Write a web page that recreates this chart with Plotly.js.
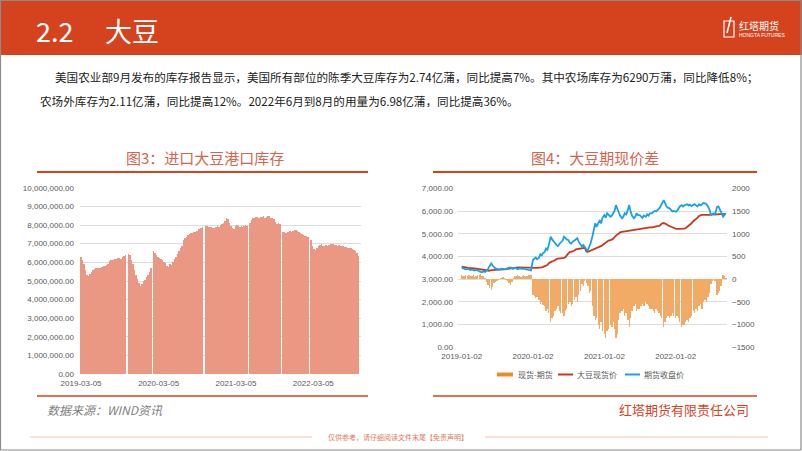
<!DOCTYPE html>
<html>
<head>
<meta charset="utf-8">
<script src="https://cdn.plot.ly/plotly-3.0.1.min.js"></script>
<style>
html,body{margin:0;padding:0;background:#fff;}
#chart{width:802px;height:451px;}
</style>
</head>
<body>
<div id="chart"></div>
<script>
// ---------- Chart 3: imported soybean port inventory (weekly) ----------
const inventoryStart = '2019-03-05';
const inventoryMillions = [
  6.30, 6.15, 5.90, 5.60,
  5.30, 5.25, 5.40, 5.50,
  5.60, 5.65, 5.70, 5.70, 5.70,
  5.72, 5.75, 5.80, 5.78, 5.85,
  5.90, 6.05, 6.10, 6.15,
  6.15, 6.20, 6.18, 6.22, 6.25,
  6.20, 6.30, 6.35, 6.40,
  null, 6.45, 6.40, 6.10, 5.90,
  5.60, 5.30, 5.10, 4.90,
  4.75, 4.85, 5.00, 5.05, 5.20,
  5.30, 5.50, 5.70, null,
  6.60, 6.50, 6.40, 6.30, 6.25,
  6.20, 6.10, 6.00, 5.95,
  5.80, 5.75, 5.90, 5.85,
  6.00, 6.20, 6.30, 6.45,
  6.60, 6.75, 6.90, 7.20, 7.30,
  7.35, 7.45, 7.50, 7.55, 7.55,
  7.60, 7.65, 7.70, 7.80,
  7.80, 7.85, 7.90, null,
  7.95, 7.95, 7.90, 7.90,
  7.90, 7.85, 7.85, 7.90, 7.95,
  7.90, 8.00, 8.05, 8.10,
  8.20, 8.35, 8.30, 8.10,
  7.95, 7.85, 7.80, 7.95,
  8.00, 7.95, 7.90, 7.95,
  7.90, 7.95, 8.00, 7.95, null,
  8.10, 8.25, 8.35, 8.40,
  8.45, 8.45, 8.40, 8.45,
  8.45, 8.50, 8.40, 8.45,
  8.50, 8.50, 8.40, 8.35, 8.30,
  8.15, 8.05, 8.10, 8.05,
  null, 7.60, 7.60, 7.55, 7.65,
  7.60, 7.70, 7.65, 7.70,
  7.75, 7.75, 7.70, 7.60,
  7.55, 7.50, 7.45, 7.40,
  7.40, 7.35, null, 7.20,
  6.90, 6.70, 6.65, 6.75,
  6.85, 6.95, 7.00, 6.90, 6.90,
  6.95, 6.90, 6.95, 7.00, 6.98,
  7.00, 6.95, 6.95, 6.90,
  6.92, 6.88, 6.85, 6.85,
  6.80, 6.80, 6.78, 6.75,
  6.75, 6.70, 6.65, 6.60, 6.50, 6.35
];
const inventoryTickVals = ['2019-03-05','2020-03-05','2021-03-05','2022-03-05'];
const inventoryTickText = ['2019-03-05','2020-03-05','2021-03-05','2022-03-05'];

// ---------- Chart 4: soybean basis (4 samples per month, Jan 2019 - Sep 2022) ----------
const sampleDays = [2, 9, 16, 23];
const spotPrice = [
  3550,3550,3530,3520, 3500,3500,3490,3480, 3470,3470,3460,3450, 3440,3430,3420,3400,
  3380,3370,3360,3370, 3400,3400,3410,3400, 3400,3400,3400,3410, 3420,3430,3440,3450,
  3470,3490,3500,3510, 3530,3530,3520,3520, 3515,3510,3500,3500, 3490,3490,3490,3490,
  3490,3490,3500,3500, 3500,3510,3520,3540, 3560,3580,3620,3700, 3760,3780,3800,3850,
  3880,3900,3900,3920, 3930,3940,3960,4050, 4150,4200,4200,4220, 4260,4310,4320,4330,
  4340,4350,4370,4380, 4220,4200,4230,4260, 4280,4300,4330,4380, 4400,4430,4450,4500,
  4580,4620,4680,4700, 4720,4750,4780,4850, 4930,4970,5000,5060, 5080,5090,5100,5110,
  5110,5130,5140,5150, 5170,5190,5200,5210, 5220,5230,5240,5250, 5260,5280,5280,5280,
  5280,5280,5300,5320, 5330,5340,5380,5450, 5470,5460,5420,5370, 5330,5300,5280,5250,
  5220,5210,5210,5200, 5200,5210,5220,5250, 5300,5340,5380,5450, 5550,5600,5620,5700,
  5780,5820,5830,5830, 5820,5820,5830,5830, 5840,5840,5840,5850, 5860,5870,5870,5860,
  5850,5860,5870
];
const futuresClose = [
  3470,3500,3450,3430, 3450,3420,3400,3430, 3400,3380,3410,3370, 3350,3320,3300,3340,
  3320,3380,3430,3550, 3690,3600,3515,3480, 3450,3430,3420,3460, 3440,3420,3430,3480,
  3500,3520,3480,3450, 3500,3470,3440,3460, 3480,3450,3470,3440, 3420,3400,3410,3380,
  3840,3900,3950,3880, 3950,4100,4050,4150, 4200,4350,4300,4500, 4870,4750,4650,4600,
  4500,4450,4550,4600, 4700,4870,4800,4750, 4720,4600,4570,4650, 4700,4750,4800,4650,
  4550,4430,4500,4400, 4300,4280,4400,4570, 4900,5200,5460,5300, 5500,5600,5450,5700,
  5820,5700,5900,5850, 5750,5800,5900,6000, 6260,6100,5900,5800, 5680,5750,5900,5850,
  6050,6260,6000,5800, 5680,5750,5900,5820, 5820,5750,5700,5800, 5750,5850,5800,5900,
  5900,5950,6000,5980, 6040,6100,6200,6300, 6480,6350,6200,6150, 6120,6050,5980,6000,
  5970,6000,6100,6200, 6260,6200,6250,6280, 6300,6250,6280,6220, 6260,6300,6250,6200,
  6300,6250,6280,6350, 6340,6300,6200,6100, 5820,5850,5900,5850, 6190,6200,6100,5950,
  5750,5850,5900
];
const basis = [
  90,60,80,100, 70,90,60,80, 100,50,80,90, 90,110,70,60,
  30,-60,-120,-200, -240,-180,-90,-60, -40,-20,10,20, 40,20,-20,-50,
  -80,-130,-60,30, 60,80,90,70, 40,60,100,70, 80,90,100,90,
  -350,-380,-420,-400, -450,-550,-500,-560, -600,-700,-650,-750, -950,-850,-800,-700,
  -650,-600,-700,-750, -750,-800,-700,-650, -550,-500,-600,-550, -450,-400,-500,-350,
  -250,-100,-150,-50, -80,-150,-300,-250, -600,-800,-900,-850, -1000,-1100,-950,-1150,
  -1200,-1300,-1150,-1100, -1000,-1050,-950,-1100, -1300,-1200,-900,-750, -700,-650,-800,-750,
  -900,-1050,-850,-700, -600,-550,-700,-650, -650,-600,-550,-600, -500,-550,-600,-650,
  -650,-700,-750,-650, -700,-750,-800,-850, -1050,-950,-850,-800, -850,-800,-750,-800,
  -850,-800,-850,-950, -1050,-1000,-1000,-950, -900,-950,-850,-800, -700,-750,-650,-700,
  -600,-550,-650,-500, -450,-500,-400,-300, -100,-50,0,-50, -350,-300,-250,-150,
  100,60,20
];
const basisTickVals = ['2019-01-02','2020-01-02','2021-01-02','2022-01-02'];
const basisTickText = ['2019-01-02','2020-01-02','2021-01-02','2022-01-02'];
const seriesNames = ['现货-期货', '大豆现货价', '期货收盘价'];

// ---------- build x values ----------
function fmt(d){return d.toISOString().slice(0,10);}
const invDates = [];
{
  const s = new Date(inventoryStart + 'T00:00:00Z');
  for (let i = 0; i < inventoryMillions.length; i++) {
    invDates.push(fmt(new Date(s.getTime() + i*7*86400000)));
  }
}
const invValues = inventoryMillions.map(v => v === null ? null : v * 1e6);

const basisDates = [];
for (let y = 2019; y <= 2022 && basisDates.length < spotPrice.length; y++) {
  for (let m = 1; m <= 12 && basisDates.length < spotPrice.length; m++) {
    for (const d of sampleDays) {
      if (basisDates.length >= spotPrice.length) break;
      basisDates.push(`${y}-${String(m).padStart(2,'0')}-${String(d).padStart(2,'0')}`);
    }
  }
}

// ---------- helpers for page positions ----------
const W = 802, H = 451;
const px = x => x / W;
const py = y => 1 - y / H;

const tickFont = {family: 'Liberation Sans, Arial, sans-serif', size: 8, color: '#595959'};
const cjk = 'Noto Sans CJK SC, sans-serif';

const traces = [
  {
    type: 'bar', x: invDates, y: invValues, xaxis: 'x', yaxis: 'y',
    marker: {color: '#EA9883', line: {width: 0}}, showlegend: false, hoverinfo: 'skip'
  },
  {
    type: 'bar', x: basisDates, y: basis, xaxis: 'x2', yaxis: 'y2', name: seriesNames[0],
    marker: {color: '#F2AB66', line: {width: 0}}, showlegend: false, hoverinfo: 'skip'
  },
  {
    type: 'scatter', mode: 'lines', x: basisDates, y: spotPrice, xaxis: 'x2', yaxis: 'y3', name: seriesNames[1],
    line: {color: '#C8381A', width: 1.8}, showlegend: false, hoverinfo: 'skip'
  },
  {
    type: 'scatter', mode: 'lines', x: basisDates, y: futuresClose, xaxis: 'x2', yaxis: 'y3', name: seriesNames[2],
    line: {color: '#19A3E6', width: 1.8}, showlegend: false, hoverinfo: 'skip'
  }
];

const shapes = [
  {type:'rect', xref:'paper', yref:'paper', x0:0, x1:1, y0:py(55), y1:1, fillcolor:'#D4431D', line:{width:0}, layer:'below'},
  {type:'rect', xref:'paper', yref:'paper', x0:px(0.5), x1:px(801), y0:py(450), y1:py(0.5), line:{color:'#8C8C8C', width:1.2}},
  {type:'rect', xref:'paper', yref:'paper', x0:px(724), x1:px(734), y0:py(37), y1:py(21), line:{color:'#fff', width:1.2}},
  {type:'line', xref:'paper', yref:'paper', x0:px(727), x1:px(731), y0:py(33), y1:py(17), line:{color:'#fff', width:1.5}},
  {type:'line', xref:'paper', yref:'paper', x0:px(37), x1:px(368), y0:py(172), y1:py(172), line:{color:'#D4431D', width:2}},
  {type:'line', xref:'paper', yref:'paper', x0:px(433), x1:px(757), y0:py(172), y1:py(172), line:{color:'#D4431D', width:2}},
  {type:'line', xref:'paper', yref:'paper', x0:px(37), x1:px(368), y0:py(396), y1:py(396), line:{color:'#D4431D', width:1.5}},
  {type:'line', xref:'paper', yref:'paper', x0:px(433), x1:px(757), y0:py(396), y1:py(396), line:{color:'#D4431D', width:1.5}},
  {type:'line', xref:'paper', yref:'paper', x0:px(30), x1:px(312), y0:py(437), y1:py(437), line:{color:'#F2C0B2', width:1}},
  {type:'line', xref:'paper', yref:'paper', x0:px(485), x1:px(768), y0:py(437), y1:py(437), line:{color:'#F2C0B2', width:1}},
  {type:'rect', xref:'paper', yref:'paper', x0:px(497), x1:px(513), y0:py(376.5), y1:py(372.5), fillcolor:'#EE8C22', line:{width:0}},
  {type:'line', xref:'paper', yref:'paper', x0:px(558), x1:px(573), y0:py(374.5), y1:py(374.5), line:{color:'#C8381A', width:2}},
  {type:'line', xref:'paper', yref:'paper', x0:px(625), x1:px(640), y0:py(374.5), y1:py(374.5), line:{color:'#19A3E6', width:2}}
];

function ann(text, x, y, opts) {
  return Object.assign({text, xref:'paper', yref:'paper', x:px(x), y:py(y), showarrow:false,
    xanchor:'left', yanchor:'middle', font:{family: cjk, size: 12, color:'#222'}}, opts || {});
}

const annotations = [
  ann('2.2', 34, 31, {font:{family:cjk, size:27, color:'#fff'}}),
  ann('大豆', 103, 31, {font:{family:cjk, size:27, color:'#fff'}}),
  ann('红塔期货', 737, 26, {font:{family:cjk, size:10, color:'#fff'}}),
  ann('HONGTA FUTURES', 737, 35, {font:{family:'Liberation Sans, sans-serif', size:5, color:'#fff'}}),
  ann('美国农业部9月发布的库存报告显示，美国所有部位的陈季大豆库存为2.74亿蒲，同比提高7%。其中农场库存为6290万蒲，同比降低8%；',
      53, 77, {font:{family:cjk, size:11.6, color:'#222'}}),
  ann('农场外库存为2.11亿蒲，同比提高12%。2022年6月到8月的用量为6.98亿蒲，同比提高36%。',
      38, 101, {font:{family:cjk, size:11.6, color:'#222'}}),
  ann('图3：进口大豆港口库存', 205, 157, {xanchor:'center', font:{family:cjk, size:15, color:'#D5654D'}}),
  ann('图4：大豆期现价差', 595, 157, {xanchor:'center', font:{family:cjk, size:15, color:'#D5654D'}}),
  ann(seriesNames[0], 516, 374.5, {font:{family:cjk, size:8, color:'#595959'}}),
  ann(seriesNames[1], 575, 374.5, {font:{family:cjk, size:8, color:'#595959'}}),
  ann(seriesNames[2], 642, 374.5, {font:{family:cjk, size:8, color:'#595959'}}),
  ann('<i>数据来源：WIND资讯</i>', 45, 409, {font:{family:cjk, size:12, color:'#7F7F7F'}}),
  ann('红塔期货有限责任公司', 751, 409, {xanchor:'right', font:{family:cjk, size:13, color:'#D4431D'}}),
  ann('仅供参考，请仔细阅读文件末尾【免责声明】', 398, 437, {xanchor:'center', font:{family:cjk, size:7, color:'#E07A60'}})
];

const layout = {
  width: W, height: H,
  margin: {l:0, r:0, t:0, b:0},
  paper_bgcolor: '#fff', plot_bgcolor: 'rgba(0,0,0,0)',
  bargap: 0,
  showlegend: false,
  xaxis: {
    domain: [px(80), px(361)], anchor: 'y', type: 'date',
    range: ['2019-02-28', '2022-10-16'],
    tickmode: 'array', tickvals: inventoryTickVals, ticktext: inventoryTickText,
    tickfont: tickFont, showgrid: false, zeroline: false, showline: false, ticks: '',
    ticklabelstandoff: 3
  },
  yaxis: {
    domain: [(H-374.3)/H, (H-187.7)/H], anchor: 'x',
    range: [0, 10000000], dtick: 1000000, tickformat: ',.2f',
    tickfont: tickFont, gridcolor: '#DCDCDC', gridwidth: 1, zeroline: false, showline: false, ticks: '',
    ticklabelstandoff: 5
  },
  xaxis2: {
    domain: [px(458), px(727)], anchor: 'y2', type: 'date',
    range: ['2018-12-14', '2022-09-22'],
    tickmode: 'array', tickvals: basisTickVals, ticktext: basisTickText,
    tickfont: tickFont, showgrid: false, zeroline: false, showline: false, ticks: '',
    ticklabelstandoff: 3
  },
  yaxis2: {
    domain: [(H-347.3)/H, (H-188.3)/H], anchor: 'x2', side: 'right',
    range: [-1500, 2000], dtick: 500,
    tickfont: tickFont, showgrid: false, zeroline: false, showline: false, ticks: '',
    ticklabelstandoff: 4
  },
  yaxis3: {
    overlaying: 'y2', anchor: 'x2', side: 'left',
    range: [0, 7000], dtick: 1000, tickformat: ',.2f',
    tickfont: tickFont, gridcolor: '#DCDCDC', gridwidth: 1, zeroline: false, showline: false, ticks: '',
    ticklabelstandoff: 4
  },
  shapes, annotations
};

Plotly.newPlot('chart', traces, layout, {staticPlot: true, displayModeBar: false});
</script>
</body>
</html>
